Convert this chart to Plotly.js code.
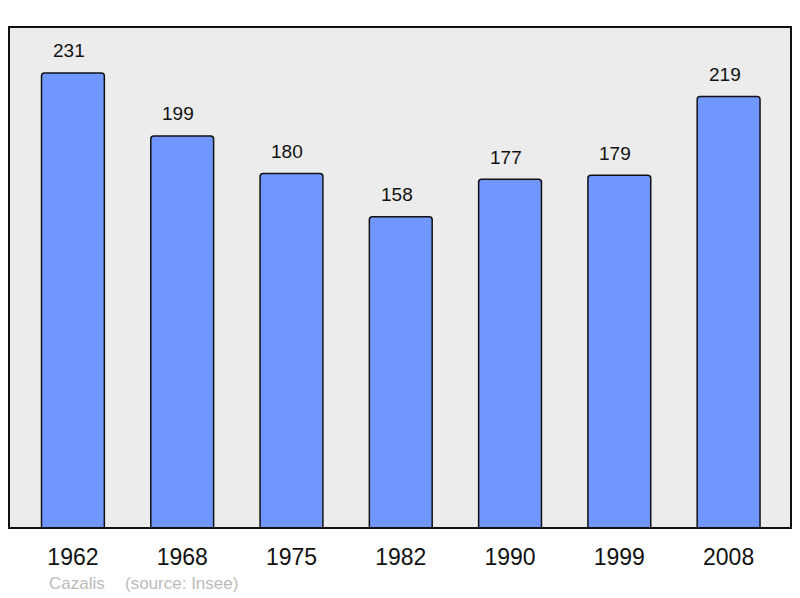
<!DOCTYPE html>
<html>
<head>
<meta charset="utf-8">
<script src="https://cdn.plot.ly/plotly-3.0.1.min.js"></script>
<style>
  html, body { margin: 0; padding: 0; background: #ffffff; }
  #chart { width: 800px; height: 598px; }
</style>
</head>
<body>
<div id="chart"></div>
<script>
// population data (Insee)
var years = ["1962", "1968", "1975", "1982", "1990", "1999", "2008"];
var population = [231, 199, 180, 158, 177, 179, 219];
var commune = "Cazalis";
var source = "(source: Insee)";

var fontFamily = "Liberation Sans, Arial, sans-serif";

var cb_popChart = function () {
  let trace1 = {
    x: years,
    y: population,
    type: "bar",
    width: 0.575,
    marker: {
      color: "#7096ff",
      line: { color: "#111111", width: 1.5 },
      cornerradius: 3,
    },
    hoverinfo: "x+y",
  };

  // value labels above each bar (sit a little left of the bar centre)
  let annotations = years.map(function (yr, i) {
    return {
      x: i,
      y: population[i],
      xref: "x",
      yref: "y",
      text: String(population[i]),
      showarrow: false,
      xanchor: "center",
      yanchor: "middle",
      xshift: -4,
      yshift: 22,
      font: { family: fontFamily, size: 19, color: "#111111" },
    };
  });

  // footer, pixel positions turned into paper coords
  let plotW = 800 - 18;
  let plotH = 598 - 97;
  annotations.push({
    x: (47 - 9) / plotW,
    y: -(583 - 528) / plotH,
    xref: "paper",
    yref: "paper",
    xanchor: "left",
    yanchor: "middle",
    text: commune,
    showarrow: false,
    font: { family: fontFamily, size: 17, color: "#bbbbbb" },
  });
  annotations.push({
    x: (123 - 9) / plotW,
    y: -(583 - 528) / plotH,
    xref: "paper",
    yref: "paper",
    xanchor: "left",
    yanchor: "middle",
    text: source,
    showarrow: false,
    font: { family: fontFamily, size: 17, color: "#bbbbbb" },
  });

  let layout = {
    width: 800,
    height: 598,
    margin: { l: 9, r: 9, b: 70, t: 27, pad: 0 },
    paper_bgcolor: "#ffffff",
    plot_bgcolor: "#ececec",
    showlegend: false,
    font: { family: fontFamily },
    xaxis: {
      type: "category",
      range: [-0.585, 6.571],
      showgrid: false,
      zeroline: false,
      showline: false,
      ticks: "",
      ticklabelstandoff: 13,
      tickfont: { family: fontFamily, size: 23, color: "#111111" },
      fixedrange: true,
    },
    yaxis: {
      range: [0, 254.3],
      showgrid: false,
      zeroline: false,
      showline: false,
      showticklabels: false,
      ticks: "",
      fixedrange: true,
    },
    // frame round the plot area
    shapes: [
      {
        type: "rect",
        xref: "paper",
        yref: "paper",
        x0: 0,
        x1: 1,
        y0: 0,
        y1: 1,
        line: { color: "#111111", width: 2 },
        layer: "above",
      },
    ],
    annotations: annotations,
  };

  let config = {
    responsive: false,
    displayModeBar: false,
    displaylogo: false,
  };

  Plotly.newPlot("chart", [trace1], layout, config);
};

if (document.readyState === "complete" || document.readyState !== "loading") {
  cb_popChart();
} else {
  document.addEventListener("DOMContentLoaded", cb_popChart);
}
</script>
</body>
</html>
